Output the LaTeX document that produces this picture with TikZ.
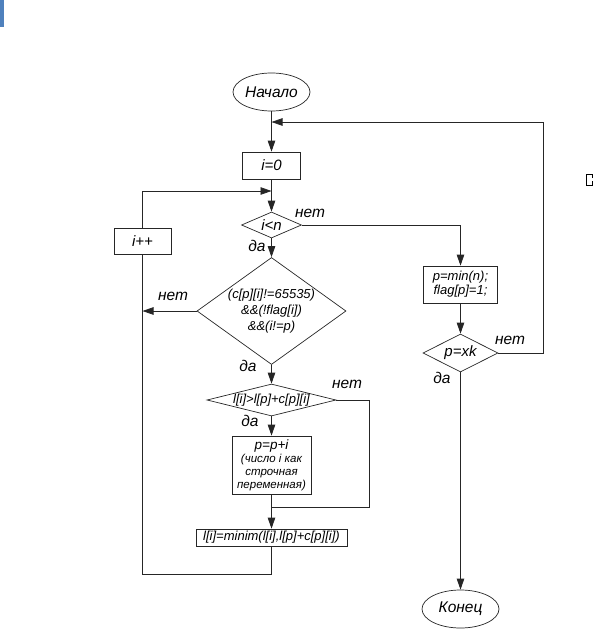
\documentclass[tikz,border=0pt]{standalone}
\usepackage{fontspec}
\setmainfont{Liberation Sans}
\usetikzlibrary{arrows.meta,shapes.geometric,positioning}
\definecolor{wordblue}{RGB}{79,129,189}
\tikzset{
  term/.style = {ellipse, draw=black!85, line width=.7pt, inner sep=0pt,
    minimum width=77pt, minimum height=38pt, font=\itshape\fontsize{15.5}{18}\selectfont},
  proc/.style = {rectangle, draw=black!85, line width=.7pt, inner sep=1pt, align=center,
    font=\itshape\fontsize{13}{14}\selectfont},
  test/.style = {diamond, draw=black!85, line width=.7pt, inner sep=-2pt, align=center,
    font=\itshape\fontsize{13}{16}\selectfont},
  lbl/.style = {inner sep=0pt, font=\itshape\fontsize{15.5}{18}\selectfont},
  big/.style = {font=\itshape\fontsize{15}{18}\selectfont},
  small/.style = {font=\itshape\fontsize{11.5}{13}\selectfont},
  wire/.style = {draw=black!85, line width=.8pt},
  flow/.style = {wire, -{Triangle[length=11pt, width=7.5pt]}}
}
\begin{document}
\begin{tikzpicture}[x = 1pt, y = -1pt]
\useasboundingbox (0,0) rectangle (596,629);
\fill[wordblue] (0,0) rectangle (4,27);
\draw[line width=.6pt] (592,178) |- (586,174) |- (592,185) -- (592,181);

\node[term] (start) at (271.5,92) {Начало};
\node[proc, big, minimum width=58pt, minimum height=27pt] (init) at (271.5,165.5) {i=0};
\node[test, big, minimum width=60pt, minimum height=26pt, aspect=2.3] (cond1) at (271.5,225) {i<n};
\node[proc, big, minimum width=57pt, minimum height=26pt] (inc) at (142.5,241) {i++};
\node[test, minimum width=149pt, minimum height=107pt, aspect=1.39] (cond2) at (271.5,311)
  {(c[p][i]!=65535)\\\&\&(!flag[i])\\\&\&(i!=p)};
\node[test, minimum width=129pt, minimum height=32pt, aspect=4] (cond3) at (271.5,400) {l[i]>l[p]+c[p][i]};
\node[proc, small, minimum width=79pt, minimum height=58pt] (upd) at (271.5,465)
  {{\fontsize{13.5}{14}\selectfont p=p+i}\\(число i как\\строчная\\переменная)};
\node[proc, minimum width=151pt, minimum height=17pt] (relax) at (271.5,537.5) {l[i]=minim(l[i],l[p]+c[p][i])};
\node[proc, minimum width=74pt, minimum height=37pt] (setp) at (460.5,284.5) {p=min(n);\\flag[p]=1;};
\node[test, big, minimum width=75pt, minimum height=38pt, aspect=2] (cmp) at (460.5,353) {p=xk};
\node[term] (stop) at (460.5,609) {Конец};

\node[lbl] (no1) at (310,213) {нет};
\node[lbl] (yes1) at (257,246) {да};
\node[lbl] (no2) at (173,296) {нет};
\node[lbl] (yes2) at (248,366) {да};
\node[lbl] (no3) at (347,384) {нет};
\node[lbl] (yes3) at (250,421) {да};
\node[lbl] (no4) at (510,340) {нет};
\node[lbl] (yes4) at (442,378) {да};

\coordinate (join1) at (271.5,122);
\coordinate (join2) at (271.5,191);
\coordinate (back) at (142.5,311);
\coordinate (merge) at (271.5,507);

\draw[flow] (start) -- (init);
\draw[flow] (init) -- (cond1);
\draw[flow] (cond1.east) -| (setp.north);
\draw[flow] (cond1) -- (cond2);
\draw[flow] (cond2.west) -- (back);
\draw[flow] (cond2) -- (cond3);
\draw[flow] (cond3) -- (upd);
\draw[wire] (cond3.east) -- ++(33,0) |- (merge);
\draw[wire] (upd) -- (merge);
\draw[flow] (merge) -- (relax);
\draw[wire] (relax.south) -- ++(0,28) -| (inc.south);
\draw[flow] (inc.north) |- (join2);
\draw[flow] (setp) -- (cmp);
\draw[flow] (cmp.east) -- ++(45,0) |- (join1);
\draw[flow] (cmp) -- (stop);
\end{tikzpicture}
\end{document}
